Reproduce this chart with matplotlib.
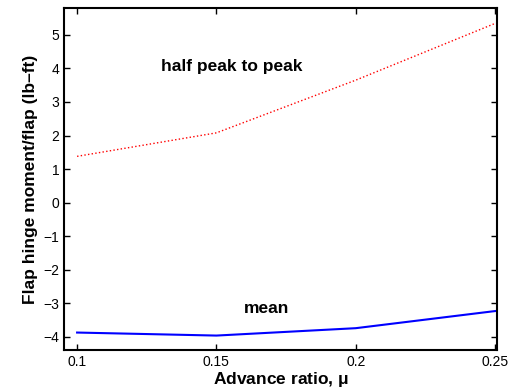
import matplotlib
matplotlib.use('Agg')
import matplotlib.pyplot as plt

plt.rcParams['font.family'] = ['Liberation Sans', 'DejaVu Sans']

# advance ratio
mu = [0.10, 0.15, 0.20, 0.25]
# half peak-to-peak and mean flap hinge moment (lb-ft)
half_p2p = [1.38, 2.08, 3.65, 5.34]
mean_mom = [-3.87, -3.96, -3.74, -3.23]

fig = plt.figure(figsize=(5.12, 3.89), dpi=100)
ax = fig.add_axes([64 / 512, 1 - 350 / 389, (497 - 64) / 512, (350 - 8) / 389])

ax.plot(mu, half_p2p, color='red', linestyle=':', linewidth=1.0)
ax.plot(mu, mean_mom, color='blue', linestyle='-', linewidth=1.5)

ax.text(0.1554, 4.05, 'half peak to peak', fontsize=12.5, fontweight='bold',
        ha='center', va='center')
ax.text(0.168, -3.16, 'mean', fontsize=12.5, fontweight='bold',
        ha='center', va='center')

ax.set_xlim(0.0953, 0.2507)
ax.set_ylim(-4.39, 5.8)
ax.set_xticks([0.1, 0.15, 0.2, 0.25])
ax.set_xticklabels(['0.1', '0.15', '0.2', '0.25'])
ax.set_yticks(range(-4, 6))
ax.set_yticklabels(['\u22124', '\u22123', '\u22122', '\u22121', '0', '1', '2', '3', '4', '5'])
ax.tick_params(direction='in', top=True, right=True, labelsize=10, length=4, width=1)
for s in ax.spines.values():
    s.set_linewidth(1.5)

ax.set_xlabel('Advance ratio, $\\mathregular{\\mu}$', fontsize=12.5, fontweight='bold', labelpad=1)
ax.set_ylabel('Flap hinge moment/flap (lb\u2013ft)', fontsize=12.5, fontweight='bold', labelpad=4)

fig.savefig('out.png', dpi=100)
